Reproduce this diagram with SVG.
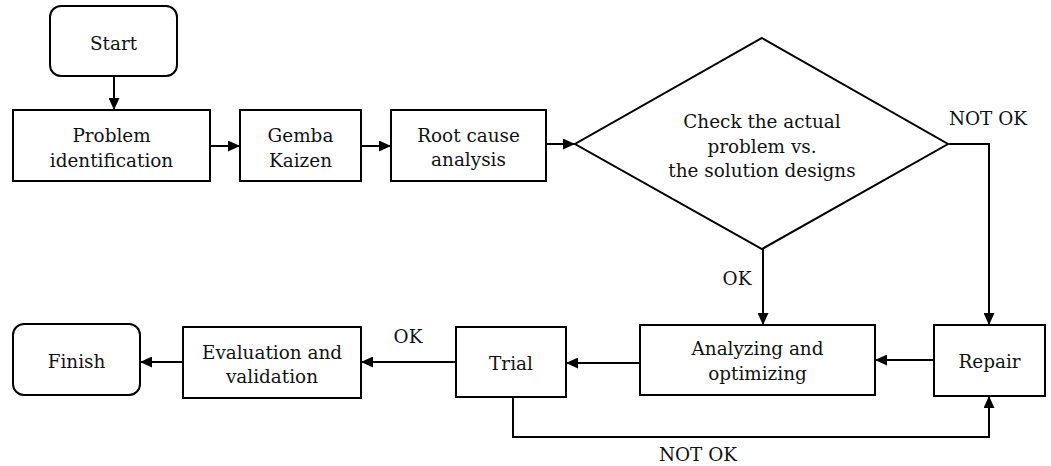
<svg xmlns="http://www.w3.org/2000/svg" width="1051" height="466" viewBox="0 0 1051 466">
<style>
.box{fill:#fff;stroke:#000;stroke-width:2}
.t{font-family:"DejaVu Serif","Liberation Serif",serif;font-size:18.4px;fill:#111;text-anchor:middle}
.c{fill:none;stroke:#000;stroke-width:2}
</style>
<defs>
<marker id="ah" markerUnits="userSpaceOnUse" markerWidth="12" markerHeight="11" refX="12" refY="5.5" orient="auto">
<path d="M0,0 L12,5.5 L0,11 z" fill="#000"/>
</marker>
</defs>
<rect width="1051" height="466" fill="#fff"/>
<g id="connectors">
<path class="c" d="M114,76 V110" marker-end="url(#ah)"/>
<path class="c" d="M210,146 H240" marker-end="url(#ah)"/>
<path class="c" d="M361,146 H391" marker-end="url(#ah)"/>
<path class="c" d="M546,144 H575" marker-end="url(#ah)"/>
<path class="c" d="M949,144 H989 V325" marker-end="url(#ah)"/>
<path class="c" d="M763,249 V325" marker-end="url(#ah)"/>
<path class="c" d="M934,360 H875" marker-end="url(#ah)"/>
<path class="c" d="M640,363 H566" marker-end="url(#ah)"/>
<path class="c" d="M456,362 H361" marker-end="url(#ah)"/>
<path class="c" d="M183,362 H140" marker-end="url(#ah)"/>
<path class="c" d="M513,397 V437 H989 V396" marker-end="url(#ah)"/>
<text class="t" x="988" y="125">NOT OK</text>
<text class="t" x="737" y="285">OK</text>
<text class="t" x="408" y="343">OK</text>
<text class="t" x="698" y="461">NOT OK</text>
</g>
<g id="start">
<rect class="box" x="50" y="6" width="127" height="70" rx="11"/>
<text class="t" x="113.5" y="50">Start</text>
</g>
<g id="problem">
<rect class="box" x="13" y="110" width="197" height="71"/>
<text class="t" x="111.5" y="142">Problem</text>
<text class="t" x="111.5" y="167">identification</text>
</g>
<g id="gemba">
<rect class="box" x="240" y="110" width="121" height="71"/>
<text class="t" x="300.5" y="142">Gemba</text>
<text class="t" x="300.5" y="167">Kaizen</text>
</g>
<g id="rootcause">
<rect class="box" x="391" y="110" width="155" height="71"/>
<text class="t" x="468.5" y="142">Root cause</text>
<text class="t" x="468.5" y="166">analysis</text>
</g>
<g id="check">
<polygon class="box" points="762,38 948,144 762,249 575,144"/>
<text class="t" x="762" y="128">Check the actual</text>
<text class="t" x="762" y="153">problem vs.</text>
<text class="t" x="762" y="177">the solution designs</text>
</g>
<g id="repair">
<rect class="box" x="934" y="325" width="111" height="71"/>
<text class="t" x="989.5" y="368">Repair</text>
</g>
<g id="analyzing">
<rect class="box" x="640" y="325" width="235" height="70"/>
<text class="t" x="757.5" y="355">Analyzing and</text>
<text class="t" x="757.5" y="380">optimizing</text>
</g>
<g id="trial">
<rect class="box" x="456" y="327" width="110" height="70"/>
<text class="t" x="511" y="370">Trial</text>
</g>
<g id="evaluation">
<rect class="box" x="183" y="327" width="178" height="71"/>
<text class="t" x="272" y="359">Evaluation and</text>
<text class="t" x="272" y="383">validation</text>
</g>
<g id="finish">
<rect class="box" x="13" y="324" width="127" height="71" rx="11"/>
<text class="t" x="76.5" y="368">Finish</text>
</g>
</svg>
